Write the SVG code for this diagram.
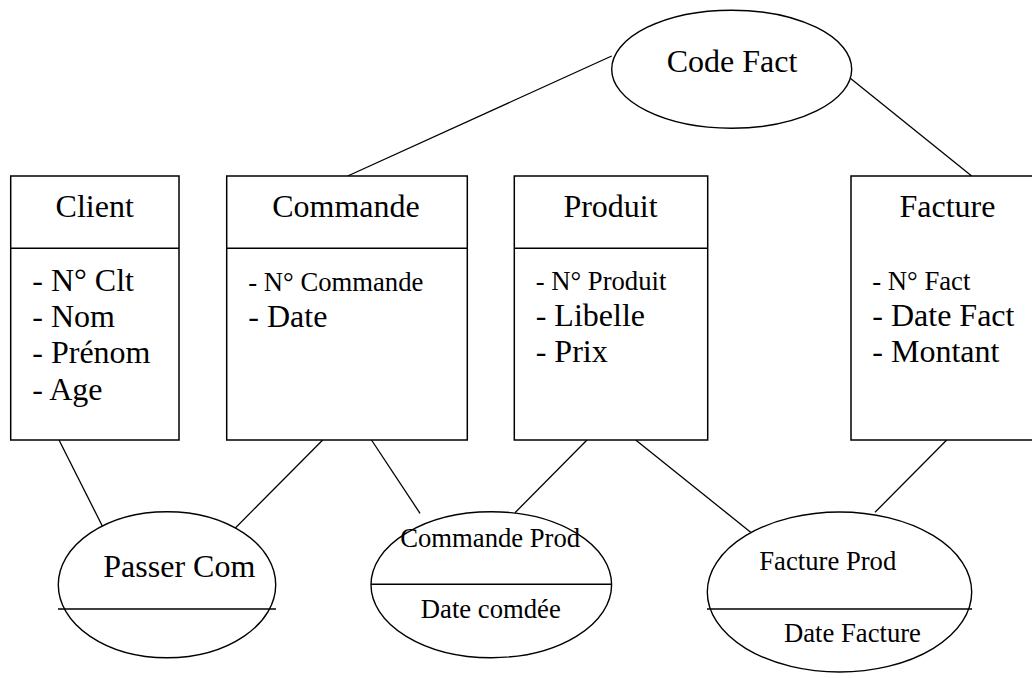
<svg xmlns="http://www.w3.org/2000/svg" width="1032" height="678" viewBox="0 0 1032 678">
<style>
  .box { fill: #fff; stroke: #000; stroke-width: 1.5; }
  .ell { fill: #fff; stroke: #000; stroke-width: 1.4; }
  .div { stroke: #000; stroke-width: 1.5; fill: none; }
  .con line { stroke: #000; stroke-width: 1.3; fill: none; }
  text { font-family: "Liberation Serif", "Times New Roman", serif; fill: #000; }
  .big { font-size: 32px; }
  .small { font-size: 26.67px; }
  .mid { text-anchor: middle; }
</style>
<rect width="1032" height="678" fill="#fff"/>
<g id="connectors" class="con">
  <line x1="347.7" y1="176" x2="611.7" y2="56"/>
  <line x1="850" y1="78" x2="971.7" y2="176"/>
  <line x1="59" y1="440" x2="107.7" y2="536.7"/>
  <line x1="322.7" y1="440" x2="226.7" y2="536.7"/>
  <line x1="371.5" y1="440" x2="420" y2="513.3"/>
  <line x1="587" y1="440" x2="515" y2="512.7"/>
  <line x1="635.7" y1="440" x2="755" y2="535.7"/>
  <line x1="946.7" y1="440" x2="875" y2="512.3"/>
</g>
<g id="codefact">
  <ellipse class="ell" cx="731.7" cy="69.2" rx="120" ry="59"/>
  <text class="big mid" x="732" y="71.7">Code Fact</text>
</g>
<g id="client">
  <rect class="box" x="10.7" y="176" width="168.3" height="264"/>
  <line class="div" x1="10.7" y1="248.3" x2="179" y2="248.3"/>
  <text class="big mid" x="94.7" y="217.3">Client</text>
  <text class="big" x="32.3" y="290.7">- N° Clt</text>
  <text class="big" x="32.3" y="326.7">- Nom</text>
  <text class="big" x="32.3" y="363.3">- Prénom</text>
  <text class="big" x="32.3" y="400">- Age</text>
</g>
<g id="commande">
  <rect class="box" x="226.7" y="176" width="240.6" height="264"/>
  <line class="div" x1="226.7" y1="248.3" x2="467.3" y2="248.3"/>
  <text class="big mid" x="346" y="217.3">Commande</text>
  <text class="small" x="248.3" y="290.7">- N° Commande</text>
  <text class="big" x="248.3" y="326.7">- Date</text>
</g>
<g id="produit">
  <rect class="box" x="514.3" y="176" width="193.4" height="264"/>
  <line class="div" x1="514.3" y1="248.3" x2="707.7" y2="248.3"/>
  <text class="big mid" x="610.5" y="216.7">Produit</text>
  <text class="small" x="535.7" y="290">- N° Produit</text>
  <text class="big" x="535.7" y="325.7">- Libelle</text>
  <text class="big" x="535.7" y="362">- Prix</text>
</g>
<g id="facture">
  <rect class="box" x="851" y="176" width="194" height="264"/>
  <text class="big mid" x="947.5" y="216.7">Facture</text>
  <text class="small" x="872.3" y="290">- N° Fact</text>
  <text class="big" x="872.3" y="326">- Date Fact</text>
  <text class="big" x="872.3" y="362">- Montant</text>
</g>
<g id="passercom">
  <ellipse class="ell" cx="167" cy="584.7" rx="108.7" ry="73"/>
  <line class="div" x1="58" y1="609" x2="276" y2="609"/>
  <text class="big" x="103.3" y="576.7">Passer Com</text>
</g>
<g id="commandeprod">
  <ellipse class="ell" cx="491.3" cy="584.7" rx="120.3" ry="73"/>
  <line class="div" x1="371" y1="584.3" x2="611.7" y2="584.3"/>
  <text class="small mid" x="490.2" y="546.7">Commande Prod</text>
  <text class="small mid" x="490.8" y="618.3">Date comdée</text>
</g>
<g id="factureprod">
  <ellipse class="ell" cx="839.5" cy="592" rx="132.2" ry="80"/>
  <line class="div" x1="707" y1="609" x2="972" y2="609"/>
  <text class="small" x="759.3" y="570">Facture Prod</text>
  <text class="small" x="784" y="641.7">Date Facture</text>
</g>
</svg>
